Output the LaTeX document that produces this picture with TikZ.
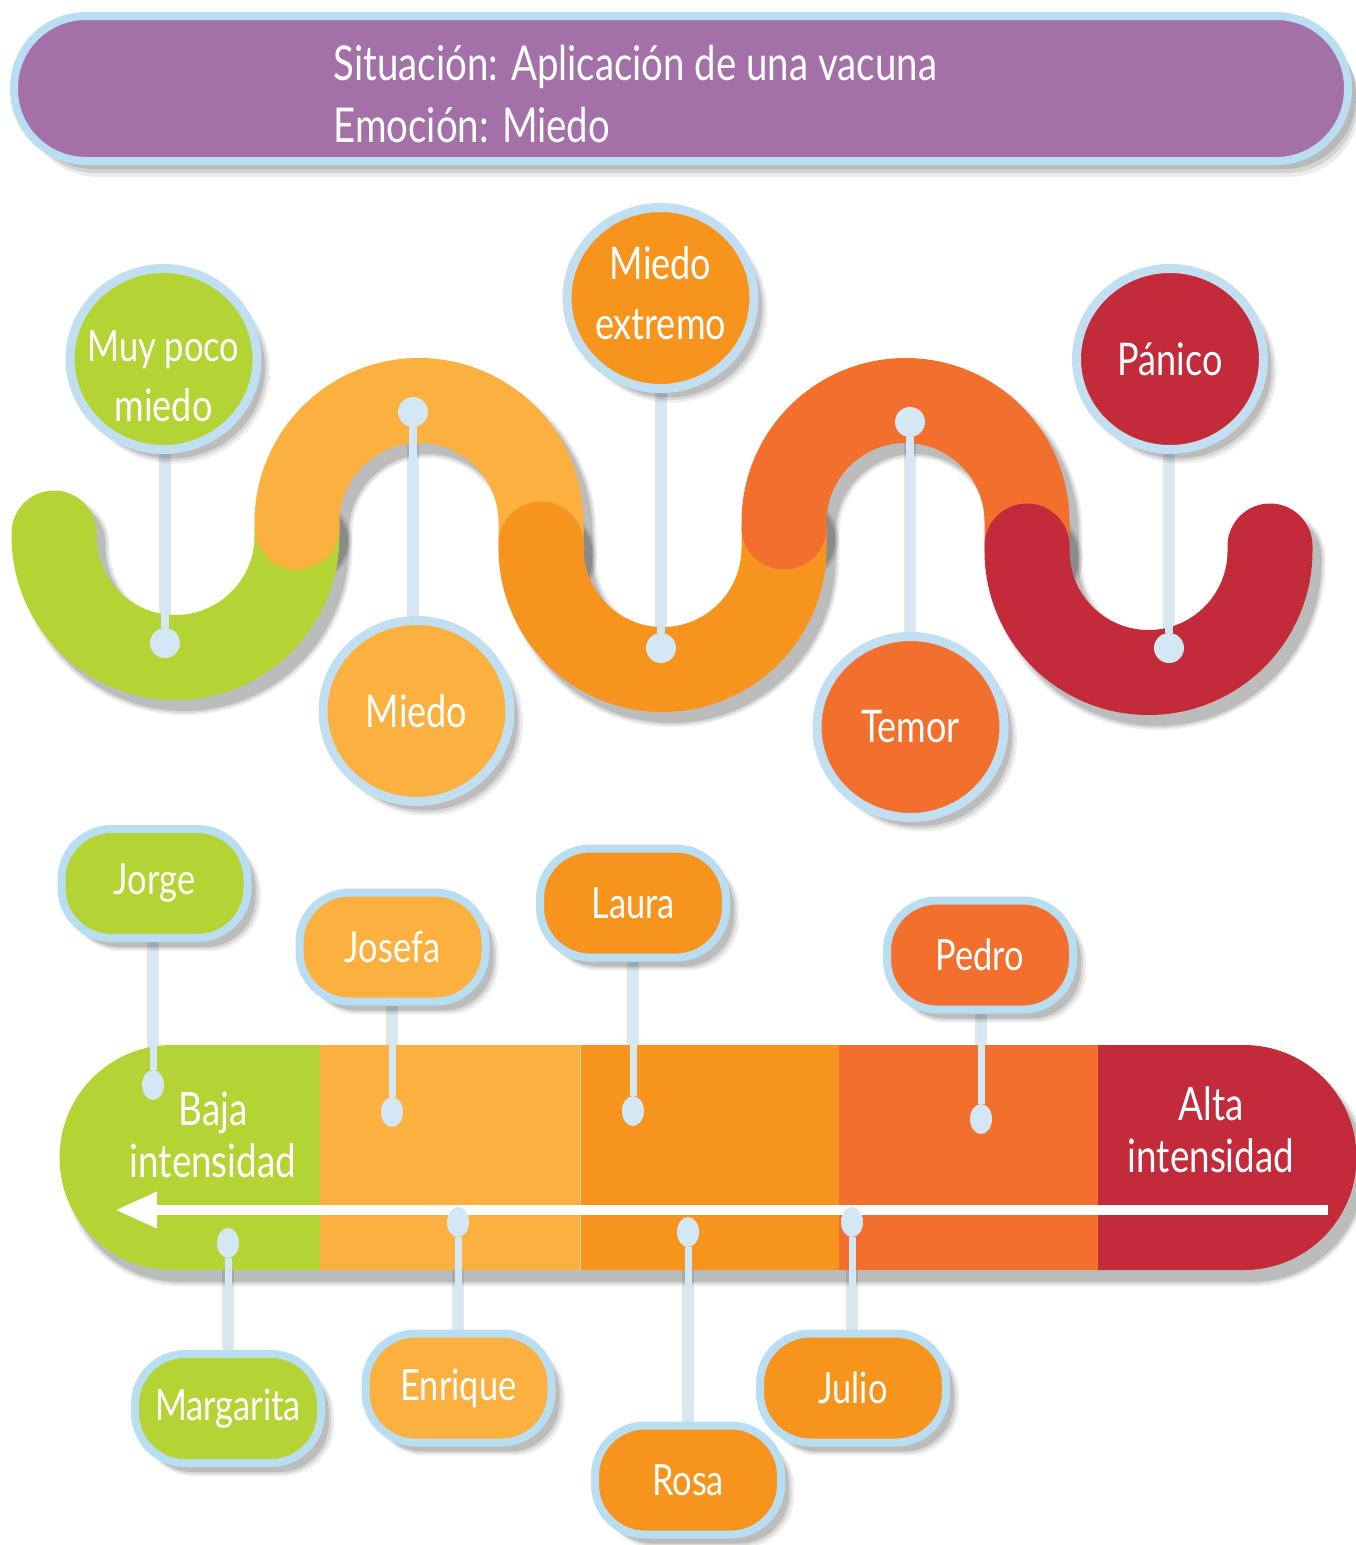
\documentclass[tikz,border=0pt]{standalone}
\usepackage{fontspec}
\setmainfont[FakeStretch=0.8]{Lato}
\usetikzlibrary{shapes.geometric,arrows.meta,shadows}
\definecolor{cgreen}{HTML}{B4D334}
\definecolor{clor}{HTML}{FBB040}
\definecolor{cdor}{HTML}{F7941E}
\definecolor{cored}{HTML}{F26F2E}
\definecolor{cdred}{HTML}{C32B3A}
\definecolor{cpurple}{HTML}{A470A8}
\definecolor{cborder}{HTML}{C2DFF2}
\definecolor{cborderb}{HTML}{B9DEF1}
\definecolor{cline}{HTML}{D3E7F5}
\pgfdeclarelayer{lzero}
\pgfdeclarelayer{lone}
\pgfdeclarelayer{ltwo}
\pgfdeclarelayer{lthree}
\pgfsetlayers{lzero,lone,ltwo,lthree,main}
\newcommand\ctext[2][0pt]{\makebox[0pt]{\raisebox{#1}[0pt][0pt]{\begin{tabular}{@{}c@{}}#2\end{tabular}}}}
\tikzset{
  softsh/.style={
    drop shadow={fill=black,opacity=0.07,shadow xshift=10pt,shadow yshift=-11pt,shadow scale=1.03},
    drop shadow={fill=black,opacity=0.09,shadow xshift=9pt,shadow yshift=-10pt,shadow scale=1.015},
    drop shadow={fill=black,opacity=0.13,shadow xshift=8pt,shadow yshift=-9pt,shadow scale=1.0}},
  hsh/.style={
    drop shadow={fill=black,opacity=0.08,shadow xshift=12pt,shadow yshift=-16pt},
    drop shadow={fill=black,opacity=0.10,shadow xshift=10pt,shadow yshift=-12pt},
    drop shadow={fill=black,opacity=0.12,shadow xshift=8pt,shadow yshift=-8pt}},
  circ/.style={ellipse, draw=cborder, line width=9pt, minimum width=187pt, minimum height=181pt,
    inner sep=0pt, text=white, align=center, font=\fontsize{45}{60}\selectfont, softsh},
  namebox/.style={rectangle, rounded corners=50pt, draw=cborderb, line width=8pt,
    minimum width=186pt, minimum height=109pt, text=white, font=\fontsize{43}{46}\selectfont, softsh},
  wdot/.style={circle, fill=cline, minimum size=30pt, inner sep=0pt},
  bdot/.style={ellipse, fill=cline, minimum width=22pt, minimum height=30pt, inner sep=0pt},
  wconn/.style={draw=cline, line width=8pt},
  bconn/.style={draw=cline, line width=7pt},
  lsh/.style={draw=black, opacity=0.10, line width=12pt, xshift=9pt},
  wstroke/.style={line width=85pt, line cap=round},
  bartxt/.style={text=white, align=center, font=\fontsize{46}{52}\selectfont}
}
\newcommand\wshadow[1]{%
  \foreach \ww/\oo in {93/0.07,89/0.09,85/0.13}{%
    \draw[black, opacity=\oo, line width=\ww pt, line cap=round, xshift=9pt, yshift=-11pt] #1;}}
\begin{document}
\begin{tikzpicture}[x=1pt,y=-1pt]
\useasboundingbox (0,0) rectangle (1356,1545);

% header
\node[rectangle, rounded corners=72pt, fill=cpurple, draw=cborderb, line width=8pt,
  minimum width=1334pt, minimum height=145pt, hsh] (hdr) at (681,88.5) {};
\node[anchor=west, align=left, text=white, font=\fontsize{48}{62}\selectfont] (htxt) at (330,94)
  {Situación: Aplicación de una vacuna\\Emoción: Miedo};

% wave shadows and strokes
\begin{pgfonlayer}{lone}
\wshadow{(54,533) -- (54,536) arc[start angle=180,end angle=360,radius=121.5pt] -- (297,533)}
\wshadow{(297,527) -- (297,522.5) arc[start angle=180,end angle=0,radius=122pt] -- (541,548)}
\wshadow{(541,544) -- (541,548) arc[start angle=180,end angle=360,radius=121.5pt] -- (784,530)}
\wshadow{(784,527) -- (784,522) arc[start angle=180,end angle=0,radius=121.5pt] -- (1027,548)}
\wshadow{(1027,546) -- (1027,551) arc[start angle=180,end angle=360,radius=121.5pt] -- (1270,546)}
% bar shadow
\foreach \ee/\oo in {4/0.07,2/0.09,0/0.13}{
  \fill[black, opacity=\oo, xshift=8pt, yshift=-12pt]
    (172,1045-\ee) -- (1244,1045-\ee) arc[start angle=90,end angle=-90,radius=112.5pt+\ee pt]
    -- (172,1270+\ee) arc[start angle=270,end angle=90,radius=112.5pt+\ee pt] -- cycle;}
\end{pgfonlayer}

\begin{pgfonlayer}{ltwo}
\draw[wstroke, cgreen] (54,533) -- (54,536) arc[start angle=180,end angle=360,radius=121.5pt] -- (297,533);
\draw[wstroke, clor] (297,527) -- (297,522.5) arc[start angle=180,end angle=0,radius=122pt] -- (541,548);
\draw[wstroke, cdor] (541,544) -- (541,548) arc[start angle=180,end angle=360,radius=121.5pt] -- (784,530);
\draw[wstroke, cored] (784,527) -- (784,522) arc[start angle=180,end angle=0,radius=121.5pt] -- (1027,548);
\draw[wstroke, cdred] (1027,546) -- (1027,551) arc[start angle=180,end angle=360,radius=121.5pt] -- (1270,546);
% bar
\begin{scope}
  \clip (172,1045) -- (1244,1045) arc[start angle=90,end angle=-90,radius=112.5pt]
    -- (172,1270) arc[start angle=270,end angle=90,radius=112.5pt] -- cycle;
  \fill[cgreen] (40,1040) rectangle (320,1280);
  \fill[clor] (320,1040) rectangle (580,1280);
  \fill[cdor] (580,1040) rectangle (839,1280);
  \fill[cored] (839,1040) rectangle (1098,1280);
  \fill[cdred] (1098,1040) rectangle (1370,1280);
  \draw[white, opacity=0.6, line width=0.8pt] (580,1045) -- (580,1270);
\end{scope}
\coordinate (astart) at (1328,1210);
\coordinate (aend) at (115,1210);
\draw[white, line width=10pt, -{Triangle[length=42pt,width=34pt]}] (astart) -- (aend);
\end{pgfonlayer}

% circles
\node[circ, fill=cgreen] (c1) at (163.5,359) {\ctext[-27pt]{\fontsize{43}{60}\selectfont Muy poco\\miedo}};
\node[circ, fill=clor] (c2) at (416.5,711) {Miedo};
\node[circ, fill=cdor] (c3) at (660.5,298) {\ctext[-6pt]{Miedo\\extremo}};
\node[circ, fill=cored] (c4) at (910.5,727) {Temor};
\node[circ, fill=cdred] (c5) at (1170,359) {Pánico};
% wave dots
\node[wdot] (w1) at (165,643) {};
\node[wdot] (w2) at (413,412) {};
\node[wdot] (w3) at (661,648) {};
\node[wdot] (w4) at (910,422) {};
\node[wdot] (w5) at (1169,648) {};

% name boxes
\node[namebox, fill=cgreen] (jorge) at (154.5,883.5) {Jorge};
\node[namebox, fill=clor] (josefa) at (392.5,947) {Josefa};
\node[namebox, fill=cdor] (laura) at (633,903) {Laura};
\node[namebox, fill=cored] (pedro) at (980,955) {Pedro};
\node[namebox, fill=cgreen] (marg) at (228,1408.5) {Margarita};
\node[namebox, fill=clor] (enri) at (458.5,1388) {Enrique};
\node[namebox, fill=cdor] (rosa) at (688,1480) {Rosa};
\node[namebox, fill=cdor] (julio) at (853,1388) {Julio};
% bar dots
\node[bdot] (b1) at (153,1085) {};
\node[bdot] (b2) at (392,1112) {};
\node[bdot] (b3) at (633,1111) {};
\node[bdot] (b4) at (981,1119) {};
\node[bdot] (b5) at (228,1243) {};
\node[bdot] (b6) at (458,1222) {};
\node[bdot] (b7) at (688,1232) {};
\node[bdot] (b8) at (852,1222) {};
% bar labels
\node[bartxt] (baja) at (213,1135) {Baja\\intensidad};
\node[bartxt] (alta) at (1211,1130) {Alta\\intensidad};

% connectors and their shadows
\begin{pgfonlayer}{lzero}
\draw[lsh] (w1 |- c1.south) -- (w1);
\draw[lsh] (w2) -- (w2 |- c2.north);
\draw[lsh] (w3 |- c3.south) -- (w3);
\draw[lsh] (w4) -- (w4 |- c4.north);
\draw[lsh] (w5 |- c5.south) -- (w5);
\draw[lsh] (b1 |- jorge.south) -- (b1);
\draw[lsh] (b2 |- josefa.south) -- (b2);
\draw[lsh] (b3 |- laura.south) -- (b3);
\draw[lsh] (b4 |- pedro.south) -- (b4);
\draw[lsh] (b5) -- (b5 |- marg.north);
\draw[lsh] (b6) -- (b6 |- enri.north);
\draw[lsh] (b7) -- (b7 |- rosa.north);
\draw[lsh] (b8) -- (b8 |- julio.north);
\end{pgfonlayer}
\begin{pgfonlayer}{lthree}
\draw[wconn] (w1 |- c1.south) -- (w1);
\draw[wconn] (w2) -- (w2 |- c2.north);
\draw[wconn] (w3 |- c3.south) -- (w3);
\draw[wconn] (w4) -- (w4 |- c4.north);
\draw[wconn] (w5 |- c5.south) -- (w5);
\draw[bconn] (b1 |- jorge.south) -- (b1);
\draw[bconn] (b2 |- josefa.south) -- (b2);
\draw[bconn] (b3 |- laura.south) -- (b3);
\draw[bconn] (b4 |- pedro.south) -- (b4);
\draw[bconn] (b5) -- (b5 |- marg.north);
\draw[bconn] (b6) -- (b6 |- enri.north);
\draw[bconn] (b7) -- (b7 |- rosa.north);
\draw[bconn] (b8) -- (b8 |- julio.north);
\end{pgfonlayer}
\end{tikzpicture}
\end{document}
